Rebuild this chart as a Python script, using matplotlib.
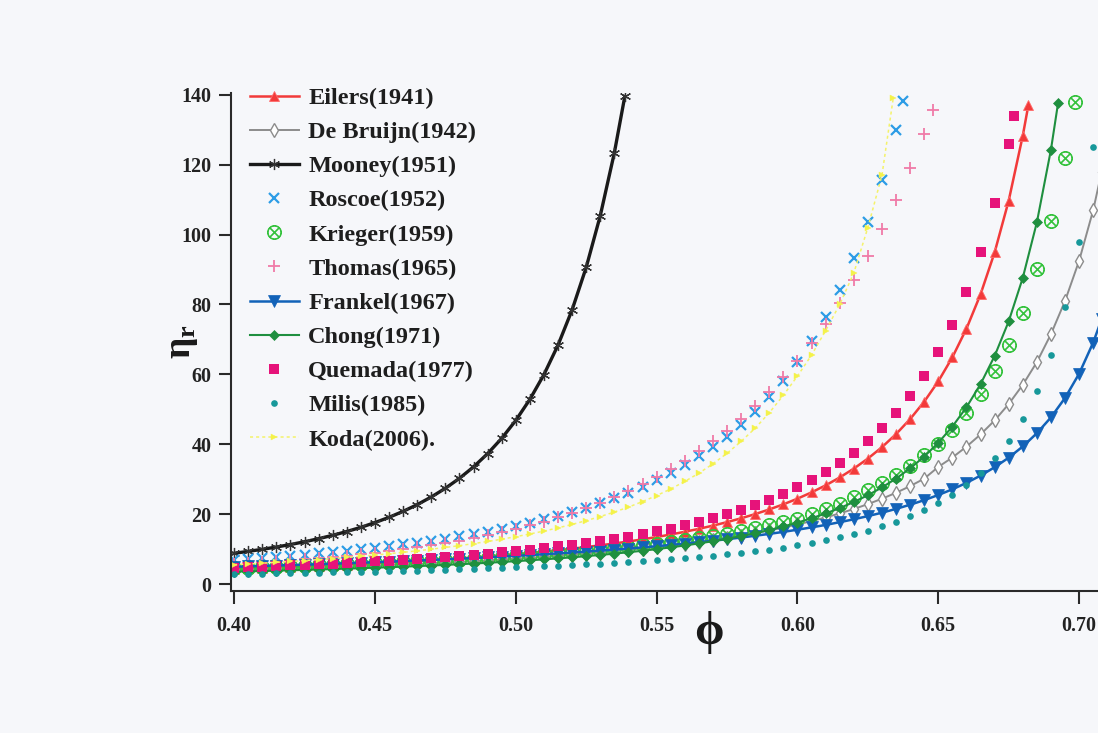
import matplotlib
matplotlib.use("Agg")
import matplotlib.pyplot as plt

plt.rcParams["font.family"] = ["Liberation Serif", "DejaVu Serif"]
plt.rcParams["font.weight"] = "bold"
plt.rcParams["mathtext.fontset"] = "custom"
plt.rcParams["mathtext.rm"] = "Liberation Serif:bold"
plt.rcParams["mathtext.it"] = "Liberation Serif:bold"
plt.rcParams["mathtext.bf"] = "Liberation Serif:bold"

# volume fraction grid (x values)
PHI = [0.400, 0.405, 0.410, 0.415, 0.420, 0.425, 0.430, 0.435, 0.440, 0.445,
       0.450, 0.455, 0.460, 0.465, 0.470, 0.475, 0.480, 0.485, 0.490, 0.495,
       0.500, 0.505, 0.510, 0.515, 0.520, 0.525, 0.530, 0.535, 0.540, 0.545,
       0.550, 0.555, 0.560, 0.565, 0.570, 0.575, 0.580, 0.585, 0.590, 0.595,
       0.600, 0.605, 0.610, 0.615, 0.620, 0.625, 0.630, 0.635, 0.640, 0.645,
       0.650, 0.655, 0.660, 0.665, 0.670, 0.675, 0.680, 0.685, 0.690, 0.695,
       0.700, 0.705]

EILERS = [4.35, 4.48, 4.61, 4.75, 4.89, 5.04, 5.20, 5.37, 5.54, 5.72, 5.92, 6.12,
          6.33, 6.56, 6.79, 7.04, 7.31, 7.59, 7.89, 8.20, 8.54, 8.89, 9.27, 9.68,
          10.11, 10.57, 11.07, 11.60, 12.17, 12.78, 13.45, 14.17, 14.94, 15.79,
          16.71, 17.71, 18.81, 20.01, 21.34, 22.80, 24.42, 26.22, 28.23, 30.48,
          33.02, 35.89, 39.15, 42.89, 47.19, 52.18, 58.0, 64.88, 73.06, 82.90,
          94.89, 109.7, 128.3]
EILERS_END = (0.682, 137.1)

DEBRUIJN = [4.03, 4.13, 4.24, 4.35, 4.47, 4.59, 4.72, 4.85, 4.99, 5.13, 5.28, 5.44,
            5.61, 5.78, 5.96, 6.15, 6.35, 6.55, 6.77, 7.00, 7.25, 7.50, 7.77, 8.06,
            8.36, 8.68, 9.01, 9.37, 9.75, 10.15, 10.58, 11.04, 11.53, 12.06, 12.62,
            13.22, 13.87, 14.57, 15.33, 16.14, 17.03, 18.00, 19.05, 20.20, 21.46,
            22.86, 24.40, 26.10, 28.01, 30.15, 33.5, 36.2, 39.3, 42.8, 46.8, 51.5,
            57.0, 63.5, 71.5, 81.0, 92.5, 107.0]
DEBRUIJN_END = (0.708, 118.0)

MOONEY = [8.79, 9.34, 9.93, 10.58, 11.30, 12.09, 12.97, 13.94, 15.02, 16.22, 17.57,
          19.08, 20.79, 22.71, 24.90, 27.39, 30.24, 33.51, 37.30, 41.68, 46.81,
          52.83, 59.93, 68.37, 78.45, 90.6, 105.4, 123.4]
MOONEY_END = (0.5387, 139.5)

ROSCOE = [6.97, 7.23, 7.51, 7.80, 8.11, 8.43, 8.77, 9.14, 9.52, 9.93, 10.36, 10.82,
          11.31, 11.83, 12.38, 12.97, 13.60, 14.28, 15.00, 15.78, 16.61, 17.50,
          18.47, 19.50, 20.63, 21.85, 23.17, 24.60, 26.15, 27.86, 29.72, 31.76,
          34.0, 36.5, 39.2, 42.2, 45.6, 49.3, 53.5, 58.2, 63.6, 69.6, 76.4, 84.2,
          93.2, 103.6, 115.7, 129.9]
ROSCOE_END = (0.6376, 138.3)

KRIEGER = [4.6, 4.7, 4.8, 4.95, 5.05, 5.2, 5.35, 5.5, 5.6, 5.75, 5.9, 6.05, 6.25,
           6.45, 6.6, 6.8, 7.0, 7.25, 7.5, 7.7, 8.0, 8.25, 8.5, 8.8, 9.15, 9.45,
           9.85, 10.2, 10.6, 11.05, 11.5, 12.0, 12.55, 13.1, 13.75, 14.4, 15.15,
           15.95, 16.8, 17.7, 18.6, 19.9, 21.4, 23.0, 24.9, 26.8, 29.0, 31.2, 33.8,
           36.8, 40.0, 44.2, 49.0, 54.5, 61.0, 68.5, 77.5, 90.0, 104.0, 122.0]
KRIEGER_END = (0.6985, 138.0)

THOMAS = [5.70, 5.93, 6.18, 6.45, 6.73, 7.04, 7.37, 7.72, 8.10, 8.51, 8.95, 9.42,
          9.93, 10.48, 11.07, 11.71, 12.40, 13.14, 13.94, 14.81, 15.75, 16.76,
          17.86, 19.05, 20.33, 21.72, 23.23, 24.86, 26.62, 28.54, 30.61, 32.86,
          35.30, 37.94, 40.80, 43.91, 47.29, 50.94, 54.91, 59.22, 63.90, 68.97,
          74.47, 80.45, 86.94, 93.98, 101.63, 109.93, 118.95, 128.74]
THOMAS_END = (0.648, 135.5)

FRANKEL = [4.94, 5.06, 5.17, 5.29, 5.41, 5.54, 5.67, 5.81, 5.95, 6.09, 6.24, 6.39,
           6.55, 6.72, 6.89, 7.06, 7.25, 7.44, 7.64, 7.84, 8.06, 8.28, 8.52, 8.76,
           9.01, 9.28, 9.56, 9.85, 10.16, 10.48, 10.82, 11.18, 11.56, 11.95, 12.38,
           12.82, 13.30, 13.81, 14.34, 14.92, 15.54, 16.20, 16.91, 17.69, 18.52,
           19.43, 20.41, 21.50, 22.69, 24.00, 25.47, 27.10, 28.94, 31.02, 33.41,
           36.15, 39.36, 43.15, 47.68, 53.25, 60.18, 69.10]
FRANKEL_END = (0.708, 75.8)

CHONG = [3.53, 3.63, 3.72, 3.82, 3.93, 4.04, 4.15, 4.27, 4.40, 4.53, 4.67, 4.81,
         4.96, 5.12, 5.29, 5.47, 5.66, 5.86, 6.07, 6.30, 6.53, 6.79, 7.05, 7.34,
         7.64, 7.97, 8.32, 8.69, 9.09, 9.52, 9.98, 10.48, 11.03, 11.61, 12.25,
         12.95, 13.71, 14.54, 15.45, 16.46, 17.57, 18.81, 20.18, 21.72, 23.46,
         25.41, 27.63, 30.17, 33.09, 36.47, 40.41, 45.05, 50.57, 57.20, 65.25,
         75.17, 87.62, 103.5, 124.3]
CHONG_END = (0.6925, 137.5)

QUEMADA = [4.72, 4.86, 5.01, 5.17, 5.33, 5.50, 5.68, 5.86, 6.06, 6.27, 6.48, 6.71,
           6.95, 7.21, 7.48, 7.76, 8.06, 8.38, 8.72, 9.07, 9.45, 9.86, 10.29, 10.75,
           11.24, 11.77, 12.33, 12.94, 13.59, 14.29, 15.05, 15.87, 16.76, 17.73,
           18.78, 19.93, 21.18, 22.56, 24.08, 25.76, 27.62, 29.69, 32.00, 34.59,
           37.50, 40.81, 44.56, 48.87, 53.83, 59.58, 66.30, 74.24, 83.69, 95.07,
           108.9, 126.0]
QUEMADA_END = (0.677, 134.0)

MILIS = [2.83, 2.89, 2.96, 3.02, 3.09, 3.16, 3.24, 3.31, 3.39, 3.48, 3.57, 3.66,
         3.76, 3.86, 3.96, 4.07, 4.19, 4.32, 4.45, 4.58, 4.73, 4.88, 5.04, 5.21,
         5.40, 5.59, 5.80, 6.02, 6.25, 6.50, 6.77, 7.06, 7.37, 7.71, 8.08, 8.47,
         8.90, 9.36, 9.87, 10.43, 11.05, 11.73, 12.48, 13.32, 14.25, 15.30, 16.49,
         17.84, 19.38, 21.15, 23.21, 25.61, 28.45, 31.85, 35.94, 40.95, 47.22,
         55.16, 65.45, 79.17, 98.0, 125.0]
MILIS_END = None

KODA = [5.53, 5.74, 5.96, 6.20, 6.45, 6.71, 6.99, 7.29, 7.60, 7.94, 8.29, 8.67,
        9.07, 9.50, 9.96, 10.46, 10.98, 11.56, 12.17, 12.83, 13.54, 14.32, 15.15,
        16.07, 17.05, 18.14, 19.30, 20.6, 22.0, 23.6, 25.3, 27.2, 29.35, 31.7, 34.4,
        37.4, 40.8, 44.6, 49.0, 54.0, 59.5, 65.5, 72.5, 80.0, 89.0, 102.0, 117.0]
KODA_END = (0.634, 139.0)

LABELS = ["Eilers(1941)", "De Bruijn(1942)", "Mooney(1951)", "Roscoe(1952)",
          "Krieger(1959)", "Thomas(1965)", "Frankel(1967)", "Chong(1971)",
          "Quemada(1977)", "Milis(1985)", "Koda(2006)."]

X_TICKS = [0.40, 0.45, 0.50, 0.55, 0.60, 0.65, 0.70]
X_TICKLABELS = ["0.40", "0.45", "0.50", "0.55", "0.60", "0.65", "0.70"]
Y_TICKS = [0, 20, 40, 60, 80, 100, 120, 140]

STYLES = [
    dict(color="#f23a3a", lw=1.8, marker="^", ms=7.5, mfc="#f23a3a", mec="#ff6a6a", mew=0.6),
    dict(color="#8c8c8c", lw=1.4, marker="d", ms=7, mfc="white", mec="#8c8c8c", mew=1.0),
    dict(color="#1a1a1a", lw=2.4, marker=(6, 2, 0), ms=8, mfc="#1a1a1a", mec="#333333", mew=0.9),
    dict(color="#2d9ce6", lw=0, ls="none", marker="x", ms=7, mew=1.6),
    dict(color="#34c23c", lw=0, ls="none", marker=r"$\otimes$", ms=10, mew=0.7),
    dict(color="#f07aa8", lw=0, ls="none", marker="+", ms=9, mew=1.3),
    dict(color="#1262b8", lw=1.8, marker="v", ms=8, mfc="#1262b8", mec="#1262b8", mew=0.5),
    dict(color="#1f8f3f", lw=1.5, marker="D", ms=5, mfc="#1f8f3f", mec="#1f8f3f", mew=0.5),
    dict(color="#e6137a", lw=0, ls="none", marker="s", ms=7.5, mew=0),
    dict(color="#17989a", lw=0, ls="none", marker="o", ms=4.8, mew=0),
    dict(color="#f4f26a", lw=1.1, ls=(0, (2.0, 2.0)), marker=">", ms=5, mfc="#f4f24a", mec="#f4f24a", mew=0.3),
]

SERIES = [(EILERS, EILERS_END), (DEBRUIJN, DEBRUIJN_END), (MOONEY, MOONEY_END),
          (ROSCOE, ROSCOE_END), (KRIEGER, KRIEGER_END), (THOMAS, THOMAS_END),
          (FRANKEL, FRANKEL_END), (CHONG, CHONG_END), (QUEMADA, QUEMADA_END),
          (MILIS, MILIS_END), (KODA, KODA_END)]

fig = plt.figure(figsize=(10.98, 7.33), dpi=100, facecolor="#f6f7fa")
ax = fig.add_axes([231 / 1098, 1 - 591 / 733, 1 - 231 / 1098, (591 - 93) / 733])
ax.set_facecolor("none")

for (vals, end), label, st in zip(SERIES, LABELS, STYLES):
    xs = PHI[:len(vals)]
    ys = list(vals)
    if end is not None:
        xs = xs + [end[0]]
        ys = ys + [end[1]]
    ax.plot(xs, ys, label=label, clip_on=True, **st)

ax.set_xlim(0.3989, 0.7067)
ax.set_ylim(-2.0, 140.5)
ax.set_xticks(X_TICKS)
ax.set_xticklabels(X_TICKLABELS)
ax.set_yticks(Y_TICKS)
for s in ("top", "right"):
    ax.spines[s].set_visible(False)
for s in ("left", "bottom"):
    ax.spines[s].set_color("#2a2a2a")
    ax.spines[s].set_linewidth(1.5)
ax.tick_params(axis="both", direction="out", length=9, width=1.5, colors="#2a2a2a",
               labelsize=14.5)
ax.tick_params(axis="x", pad=9)
ax.tick_params(axis="y", pad=5)
for lab in ax.get_xticklabels() + ax.get_yticklabels():
    lab.set_fontweight("bold")
    lab.set_color("#222222")

leg = ax.legend(loc="upper left", bbox_to_anchor=(250 / 1098, 1 - 87 / 733),
                bbox_transform=fig.transFigure, frameon=False, numpoints=1,
                prop=dict(family="Liberation Serif", weight="bold", size=17.5),
                handlelength=2.0, handletextpad=0.4, labelspacing=0.5,
                borderpad=0, borderaxespad=0)
for t in leg.get_texts():
    t.set_color("#1e1e1e")

fig.text(182 / 1098, 1 - 342 / 733, r"$\eta_r$", rotation=90, ha="center", va="center",
         fontsize=27, color="#1a1a1a")
fig.text(709 / 1098, 1 - 633 / 733, "ϕ", ha="center", va="center", fontsize=34,
         fontweight="bold", color="#1a1a1a", family=["Liberation Serif", "DejaVu Serif"])

fig.savefig("out.png", dpi=100, facecolor=fig.get_facecolor())
